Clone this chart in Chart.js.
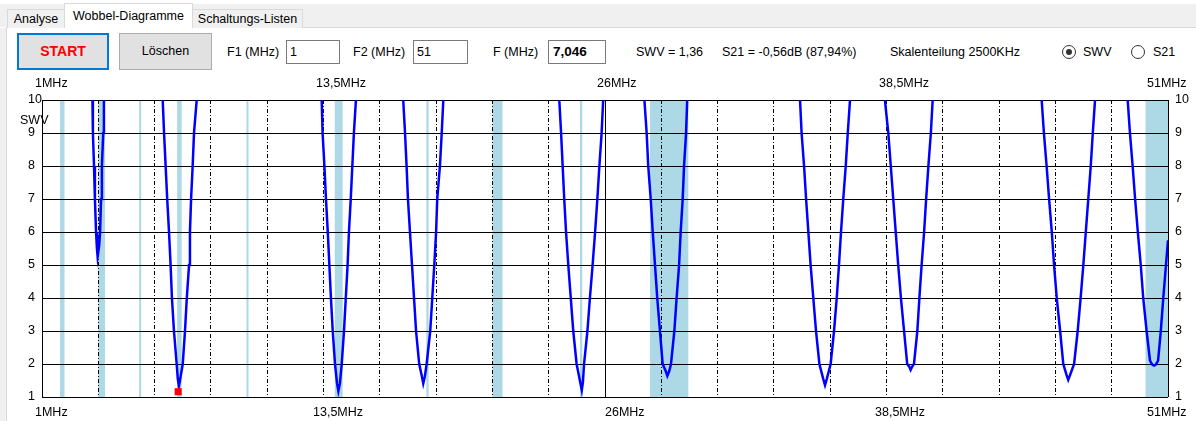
<!DOCTYPE html>
<html>
<head>
<meta charset="utf-8">
<script src="https://cdn.jsdelivr.net/npm/chart.js@4.4.1/dist/chart.umd.min.js"></script>
<style>
html,body{margin:0;padding:0;width:1196px;height:421px;overflow:hidden;background:#fff;
  font-family:"Liberation Sans",Arial,sans-serif;font-size:12.5px;color:#000;}
.a{position:absolute;white-space:nowrap;}
.lbl{height:16px;line-height:16px;top:44px;}
#strip{left:0;top:4px;width:1196px;height:23px;background:#f0f0f0;}
#line{left:6px;top:27px;width:1190px;height:1px;background:#d9d9d9;}
#lmargin{left:0;top:28px;width:6px;height:393px;background:#f0f0f0;}
#lborder{left:6px;top:28px;width:1px;height:393px;background:#d9d9d9;}
.tab{background:#f0f0f0;border:1px solid #d9d9d9;border-bottom:none;text-align:center;box-sizing:border-box;}
.tabsel{background:#fff;border:1px solid #d9d9d9;border-bottom:none;text-align:center;box-sizing:border-box;}
.btn{box-sizing:border-box;background:#e1e1e1;text-align:center;}
.tb{box-sizing:border-box;border:1px solid #7a7a7a;background:#fff;height:24px;line-height:22px;padding-left:3px;}
.radio{box-sizing:border-box;width:14px;height:14px;border:1px solid #333;border-radius:50%;background:#fff;}
.dot{width:6px;height:6px;border-radius:50%;background:#333;left:3px;top:3px;position:absolute;}
#c{position:absolute;left:0;top:0;}
</style>
</head>
<body>
<div class="a" id="strip"></div>
<div class="a" id="line"></div>
<div class="a" id="lmargin"></div>
<div class="a" id="lborder"></div>
<div class="a tab" style="left:7px;top:9px;width:58px;height:19px;line-height:18px;">Analyse</div>
<div class="a tabsel" style="left:64px;top:3px;width:129px;height:25px;line-height:24px;">Wobbel-Diagramme</div>
<div class="a tab" style="left:192px;top:9px;width:111px;height:19px;line-height:18px;">Schaltungs-Listen</div>

<div class="a btn" style="left:17px;top:33px;width:92px;height:37px;border:2px solid #0078d7;line-height:33px;color:#ff0000;font-weight:bold;font-size:14px;">START</div>
<div class="a btn" style="left:119px;top:33px;width:93px;height:37px;border:1px solid #adadad;line-height:35px;">Löschen</div>

<div class="a lbl" style="left:227px;">F1 (MHz)</div>
<div class="a tb" style="left:286px;top:40px;width:54px;">1</div>
<div class="a lbl" style="left:353px;">F2 (MHz)</div>
<div class="a tb" style="left:413px;top:40px;width:55px;">51</div>
<div class="a lbl" style="left:493px;">F (MHz)</div>
<div class="a tb" style="left:548px;top:40px;width:58px;font-weight:bold;font-size:13.5px;padding-left:4px;">7,046</div>
<div class="a lbl" style="left:636px;">SWV = 1,36</div>
<div class="a lbl" style="left:722px;">S21 = -0,56dB (87,94%)</div>
<div class="a lbl" style="left:890px;">Skalenteilung 2500KHz</div>
<div class="a radio" style="left:1062px;top:45px;"><div class="dot"></div></div>
<div class="a lbl" style="left:1083px;">SWV</div>
<div class="a radio" style="left:1131px;top:45px;"></div>
<div class="a lbl" style="left:1153px;">S21</div>

<canvas id="c" width="1196" height="421"></canvas>

<script>
// ---- data ----
// null SWV = trace is above the 10 limit (off scale)
const freqMHz = [
  1.0,
  3.24, 3.26, 3.31, 3.35, 3.40, 3.44, 3.47, 3.54, 3.58, 3.62, 3.66, 3.72, 3.75,
  5.0,
  6.36, 6.42, 6.49, 6.56, 6.64, 6.71, 6.77, 6.86, 6.98, 7.03, 7.08, 7.14, 7.25, 7.35, 7.43, 7.53, 7.57, 7.62, 7.69, 7.75, 7.87,
  10.5,
  13.42, 13.46, 13.54, 13.61, 13.69, 13.76, 13.83, 13.91, 14.01, 14.10, 14.16, 14.23, 14.31, 14.41, 14.49, 14.57, 14.63, 14.71, 14.78, 14.85, 14.94,
  16.0,
  17.04, 17.12, 17.19, 17.25, 17.34, 17.43, 17.52, 17.61, 17.75, 17.87, 17.93, 18.00, 18.08, 18.24, 18.33, 18.42, 18.50, 18.55, 18.67, 18.75, 18.82,
  21.0,
  23.97, 24.05, 24.12, 24.19, 24.27, 24.37, 24.48, 24.59, 24.74, 24.90, 24.97, 25.02, 25.07, 25.22, 25.33, 25.45, 25.56, 25.66, 25.75, 25.85, 25.92,
  27.0,
  27.75, 27.85, 27.92, 28.03, 28.12, 28.22, 28.32, 28.44, 28.56, 28.70, 28.77, 28.85, 28.93, 29.08, 29.18, 29.29, 29.36, 29.45, 29.51, 29.60, 29.65,
  32.0,
  34.66, 34.73, 34.84, 34.93, 35.03, 35.13, 35.25, 35.37, 35.52, 35.69, 35.77, 35.85, 36.02, 36.17, 36.29, 36.39, 36.48, 36.58, 36.69, 36.78, 36.88,
  37.6,
  38.43, 38.58, 38.69, 38.80, 38.91, 39.02, 39.14, 39.28, 39.42, 39.51, 39.57, 39.64, 39.72, 39.87, 39.96, 40.06, 40.17, 40.26, 40.36, 40.47, 40.55,
  43.0,
  45.39, 45.49, 45.61, 45.72, 45.84, 45.94, 46.06, 46.21, 46.35, 46.49, 46.57, 46.66, 46.83, 46.99, 47.12, 47.24, 47.35, 47.46, 47.57, 47.66, 47.76,
  48.5,
  49.21, 49.31, 49.43, 49.54, 49.66, 49.79, 49.90, 50.05, 50.20, 50.30, 50.38, 50.46, 50.56, 50.68, 50.79, 50.91, 51.0
];
const swv = [
  null,
  10, 9, 8, 7, 6, 5.5, 5.25, 5.6, 6, 7, 8, 9, 10,
  null,
  10, 9, 8, 7, 6, 5, 4, 3, 2, 1.55, 1.33, 1.55, 2, 3, 4, 5, 6, 7, 8, 9, 10,
  null,
  10, 9, 8, 7, 6, 5, 4, 3, 2, 1.42, 1.18, 1.42, 2, 3, 4, 5, 6, 7, 8, 9, 10,
  null,
  10, 9, 8, 7, 6, 5, 4, 3, 2, 1.62, 1.41, 1.62, 2, 3, 4, 5, 6, 7, 8, 9, 10,
  null,
  10, 9, 8, 7, 6, 5, 4, 3, 2, 1.45, 1.21, 1.45, 2, 3, 4, 5, 6, 7, 8, 9, 10,
  null,
  10, 9, 8, 7, 6, 5, 4, 3, 2, 1.78, 1.64, 1.78, 2, 3, 4, 5, 6, 7, 8, 9, 10,
  null,
  10, 9, 8, 7, 6, 5, 4, 3, 2, 1.55, 1.36, 1.55, 2, 3, 4, 5, 6, 7, 8, 9, 10,
  null,
  10, 9, 8, 7, 6, 5, 4, 3, 2, 1.92, 1.82, 1.92, 2, 3, 4, 5, 6, 7, 8, 9, 10,
  null,
  10, 9, 8, 7, 6, 5, 4, 3, 2, 1.68, 1.52, 1.68, 2, 3, 4, 5, 6, 7, 8, 9, 10,
  null,
  10, 9, 8, 7, 6, 5, 4, 3, 2.1, 1.98, 1.95, 1.98, 2.1, 3, 4, 5, 5.75
];
// amateur radio bands (light blue)
const bandStart = [1.8, 3.5, 5.3515, 7.0, 10.1, 14.0, 18.068, 21.0, 24.89, 28.0, 50.0];
const bandEnd   = [2.0, 3.8, 5.3665, 7.2, 10.15, 14.35, 18.168, 21.45, 24.99, 29.7, 52.0];
// cursor marker
const markerFreq = [7.046];
const markerSwv = [1.16];
// axes
const gridFreqs = [1, 3.5, 6, 8.5, 11, 13.5, 16, 18.5, 21, 23.5, 26, 28.5, 31, 33.5, 36, 38.5, 41, 43.5, 46, 48.5, 51];
const solidGridFreqs = [1, 26, 51];
const xLabelFreqs = [1, 13.5, 26, 38.5, 51];
const xLabelTexts = ['1MHz', '13,5MHz', '26MHz', '38,5MHz', '51MHz'];
const yMin = 1, yMax = 10;
const yAxisTitle = 'SWV';

// ---- chart ----
const FONT = '"Liberation Sans", Arial, sans-serif';
const topOffsets = [-7, -7.5, -8, -7.5, -21];
const bottomOffsets = [-7, -10.5, 0, -11.5, -21];

const wobbelPlugin = {
  id: 'wobbel',
  beforeDraw(chart) {
    const {ctx, chartArea: a, scales: {x}} = chart;
    ctx.save();
    ctx.fillStyle = '#add8e6';
    bandStart.forEach((s, i) => {
      let x1 = x.getPixelForValue(Math.max(s, x.min));
      let x2 = x.getPixelForValue(Math.min(bandEnd[i], x.max));
      if (x2 - x1 < 2) { const c = (x1 + x2) / 2; x1 = c - 1; x2 = c + 1; }
      ctx.fillRect(x1, a.top, x2 - x1, a.bottom - a.top);
    });
    ctx.restore();
  },
  beforeDatasetsDraw(chart) {
    const {ctx, chartArea: a, scales: {x}} = chart;
    ctx.save();
    ctx.strokeStyle = '#000';
    ctx.lineWidth = 1;
    gridFreqs.forEach(f => {
      const px = Math.round(x.getPixelForValue(f) - 0.5) + 0.5;
      ctx.setLineDash(solidGridFreqs.includes(f) ? [] : [4, 2, 1, 2]);
      ctx.beginPath();
      ctx.moveTo(px, a.top);
      ctx.lineTo(px, a.bottom);
      ctx.stroke();
    });
    ctx.restore();
  },
  afterDraw(chart) {
    const {ctx, chartArea: a, scales: {x}} = chart;
    ctx.save();
    ctx.fillStyle = '#000';
    ctx.font = '12.5px ' + FONT;
    ctx.textBaseline = 'middle';
    ctx.textAlign = 'left';
    xLabelFreqs.forEach((f, i) => {
      const px = x.getPixelForValue(f);
      ctx.fillText(xLabelTexts[i], px + topOffsets[i], a.top - 16);
      ctx.fillText(xLabelTexts[i], px + bottomOffsets[i], a.bottom + 16);
    });
    ctx.fillText(yAxisTitle, 20, a.top + 21);
    ctx.restore();
  }
};

const linePoints = freqMHz.map((f, i) => ({x: f, y: swv[i]}));
const markerPoints = markerFreq.map((f, i) => ({x: f, y: markerSwv[i]}));

new Chart(document.getElementById('c'), {
  type: 'line',
  data: {
    datasets: [
      {
        data: markerPoints,
        showLine: false,
        pointStyle: 'rect',
        pointRadius: 5,
        pointBackgroundColor: '#ff0000',
        pointBorderWidth: 0,
        order: 0
      },
      {
        data: linePoints,
        borderColor: '#0000ff',
        borderWidth: 2.5,
        pointRadius: 0,
        tension: 0,
        spanGaps: false,
        fill: false,
        order: 1
      }
    ]
  },
  options: {
    responsive: false,
    animation: false,
    events: [],
    layout: {padding: {left: 28, right: 6, top: 100, bottom: 24}},
    plugins: {legend: {display: false}, tooltip: {enabled: false}},
    scales: {
      x: {
        type: 'linear',
        min: 1, max: 51,
        display: false
      },
      y: {
        position: 'left',
        min: yMin, max: yMax,
        ticks: {stepSize: 1, color: '#000', font: {family: FONT, size: 12.5}, crossAlign: 'far', padding: 0},
        grid: {color: '#000', lineWidth: 1, drawTicks: false},
        border: {display: false},
        afterFit(s) { s.width = 14; }
      },
      y2: {
        position: 'right',
        min: yMin, max: yMax,
        ticks: {stepSize: 1, color: '#000', font: {family: FONT, size: 12.5}, crossAlign: 'near', padding: 7},
        grid: {display: false, drawTicks: false},
        border: {display: false},
        afterFit(s) { s.width = 22; }
      }
    }
  },
  plugins: [wobbelPlugin]
});
</script>
</body>
</html>
